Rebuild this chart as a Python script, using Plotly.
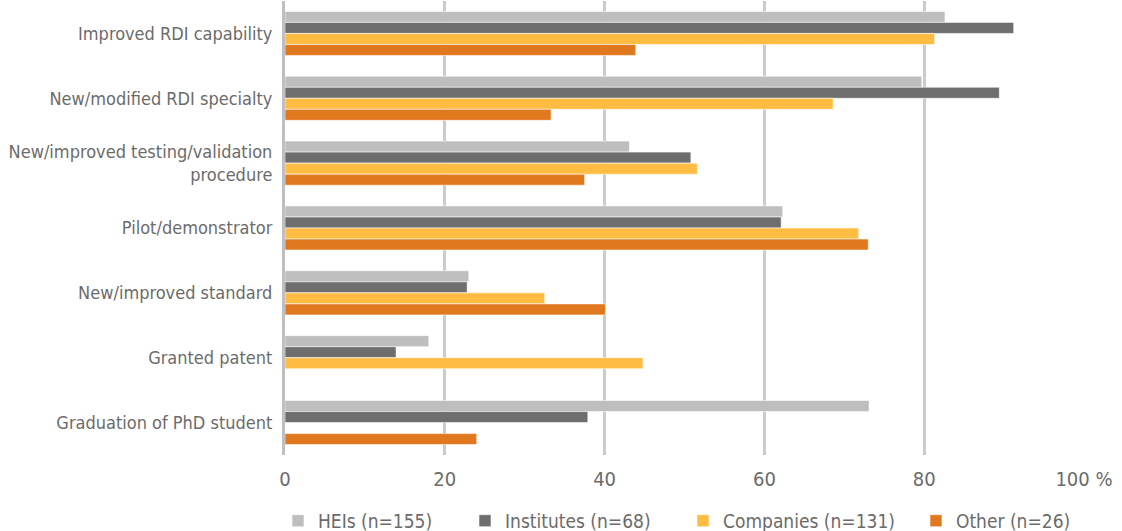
import plotly.graph_objects as go

categories = [
    "Improved RDI capability",
    "New/modified RDI specialty",
    "New/improved testing/validation<br>procedure",
    "Pilot/demonstrator",
    "New/improved standard",
    "Granted patent",
    "Graduation of PhD student",
]

heis = [82.6, 79.7, 43.1, 62.3, 23.0, 18.0, 73.1]
institutes = [91.2, 89.4, 50.8, 62.1, 22.8, 13.9, 37.9]
companies = [81.3, 68.6, 51.6, 71.8, 32.5, 44.8, None]
other = [43.9, 33.3, 37.5, 73.0, 40.1, None, 24.0]

series_names = ["HEIs (n=155)", "Institutes (n=68)", "Companies (n=131)", "Other (n=26)"]
series_values = [heis, institutes, companies, other]
series_colors = ["#bebebe", "#6e6e6e", "#ffbc42", "#e07820"]

tick_vals = [0, 20, 40, 60, 80, 100]
tick_text = ["0", "20", "40", "60", "80", "100 %"]

FONT = "Liberation Sans Narrow, DejaVu Sans Condensed, Arial Narrow, sans-serif"
TEXT_COLOR = "#6b6b6b"

# one legend box per series so each entry sits at its own horizontal position
legend_ids = ["legend", "legend2", "legend3", "legend4"]
legend_x = [-0.0088, 0.2253, 0.4981, 0.7897]

fig = go.Figure()
for name, vals, color, lid in zip(series_names, series_values, series_colors, legend_ids):
    fig.add_trace(go.Bar(
        y=categories,
        x=vals,
        name=name,
        orientation="h",
        legend=lid,
        showlegend=True,
        marker=dict(color=color, line=dict(color="rgba(255,255,255,0.7)", width=0.8)),
    ))

legend_style = dict(
    orientation="h",
    xanchor="left",
    y=-0.145,
    yanchor="middle",
    font=dict(family=FONT, size=19, color=TEXT_COLOR),
    itemwidth=30,
    bgcolor="rgba(0,0,0,0)",
)

fig.update_layout(
    width=1122,
    height=531,
    showlegend=True,
    barmode="group",
    bargap=0.32,
    bargroupgap=0,
    plot_bgcolor="white",
    paper_bgcolor="white",
    margin=dict(l=285, r=38, t=1, b=76, autoexpand=False),
    font=dict(family=FONT, size=18, color=TEXT_COLOR),
    xaxis=dict(
        range=[0, 100],
        tickvals=tick_vals,
        ticktext=tick_text,
        showgrid=True,
        gridcolor="#cbcbcb",
        gridwidth=2.5,
        zeroline=False,
        showline=False,
        ticks="",
        ticklabelstandoff=10,
        automargin=False,
        tickfont=dict(family=FONT, size=20, color=TEXT_COLOR),
        fixedrange=True,
    ),
    yaxis=dict(
        autorange="reversed",
        showline=True,
        linecolor="#bfbfbf",
        linewidth=3,
        showgrid=False,
        ticks="",
        ticklabelstandoff=6,
        automargin=False,
        tickfont=dict(family=FONT, size=18, color=TEXT_COLOR),
        fixedrange=True,
    ),
)

for lid, lx in zip(legend_ids, legend_x):
    fig.update_layout({lid: dict(legend_style, x=lx, visible=True)})

fig.write_html("out.html")
